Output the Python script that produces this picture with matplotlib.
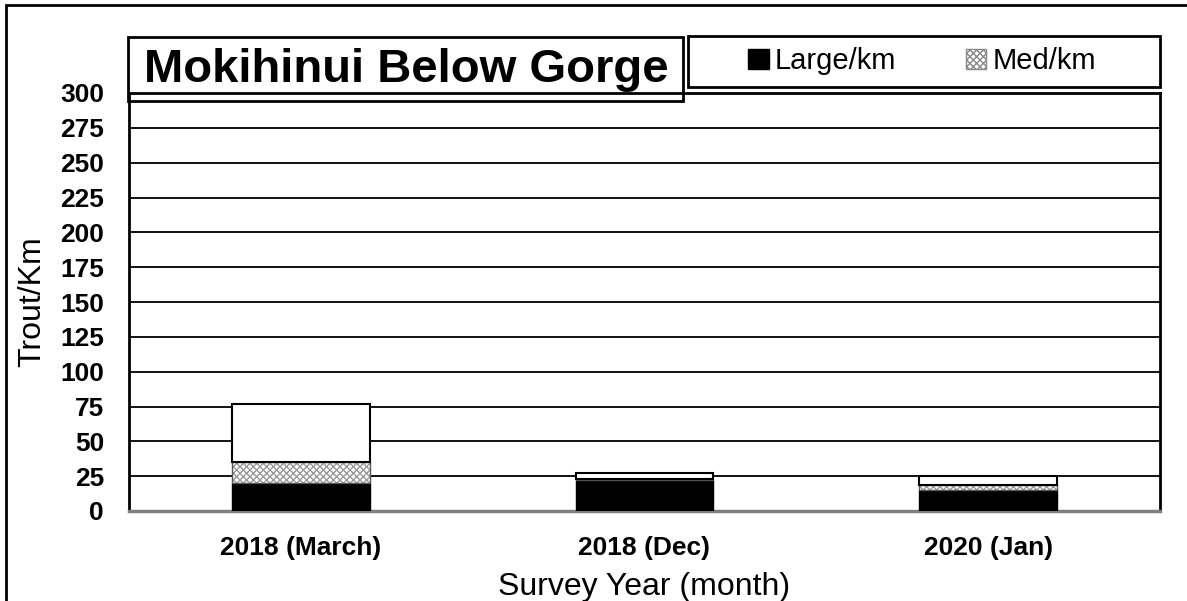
import matplotlib.pyplot as plt
from matplotlib.patches import Rectangle, Patch

plt.rcParams['font.family'] = ['Liberation Sans', 'DejaVu Sans']

# data
surveys = ["2018 (March)", "2018 (Dec)", "2020 (Jan)"]
large_km = [20, 22, 15]
med_km = [15.5, 1, 4]
small_km = [41.5, 4, 6]
y_ticks = list(range(0, 301, 25))

W, H = 1187, 601
fig = plt.figure(figsize=(W / 100, H / 100), dpi=100)
# plot area in pixels: left 129, right 1160, top 93, bottom 511
ax = fig.add_axes([129 / W, 1 - 511 / H, (1160 - 129) / W, (511 - 93) / H])

x = range(len(surveys))
bw = 0.4
med_bottom = large_km
small_bottom = [a + b for a, b in zip(large_km, med_km)]

ax.bar(x, large_km, bw, color='black', edgecolor='black', linewidth=1, zorder=3)
ax.bar(x, med_km, bw, bottom=med_bottom, color='white', edgecolor='#9a9a9a',
       hatch='xxxxx', linewidth=0, zorder=3)
ax.bar(x, med_km, bw, bottom=med_bottom, fill=False, edgecolor='#555555',
       linewidth=1, zorder=3)
ax.bar(x, small_km, bw, bottom=small_bottom, color='white', edgecolor='black',
       linewidth=1.5, zorder=3)

ax.set_ylim(0, 300)
ax.set_xlim(-0.5, len(surveys) - 0.5)
ax.set_yticks(y_ticks)
ax.set_xticks(list(x))
ax.set_xticklabels(surveys)
ax.grid(axis='y', color='black', linewidth=1.3, zorder=0)
ax.tick_params(length=0, labelsize=19)
ax.tick_params(axis='y', pad=18)
ax.tick_params(axis='x', pad=18)
for lbl in ax.get_xticklabels() + ax.get_yticklabels():
    lbl.set_fontweight('bold')

for s in ['left', 'top', 'right']:
    ax.spines[s].set_color('black')
    ax.spines[s].set_linewidth(2)
ax.spines['bottom'].set_color('#808080')
ax.spines['bottom'].set_linewidth(2.5)

ax.set_ylabel("Trout/Km", fontsize=23, labelpad=9)
ax.set_xlabel("Survey Year (month)", fontsize=23, labelpad=9)

# figure frame (left and top edges visible)
fig.patches.append(Rectangle((6 / W, -0.1), 1.2, 1 - 5 / H + 0.1,
                             transform=fig.transFigure, fill=False,
                             edgecolor='black', linewidth=2))

# title box
fig.patches.append(Rectangle((128 / W, 1 - 101 / H), (683 - 128) / W, 64 / H,
                             transform=fig.transFigure, fill=False,
                             edgecolor='black', linewidth=2, zorder=5))
fig.text(406 / W, 1 - 70 / H, "Mokihinui Below Gorge", fontsize=34,
         fontweight='bold', ha='center', va='center')

# legend frame box (688 to 1160 px wide, 36 to 87 px tall)
fig.patches.append(Rectangle((688 / W, 1 - 87 / H), (1160 - 688) / W, 51 / H,
                             transform=fig.transFigure, fill=False,
                             edgecolor='black', linewidth=2, zorder=5))
handles = [Patch(facecolor='black', edgecolor='black', label='Large/km'),
           Patch(facecolor='white', edgecolor='#888888', hatch='xxxxx',
                 label='Med/km')]
leg = fig.legend(handles=handles, ncol=2, loc='center',
                 bbox_to_anchor=(922 / W, 1 - 61 / H), fontsize=21,
                 frameon=False, handlelength=0.7, handleheight=0.7,
                 handletextpad=0.2, columnspacing=2.4)

fig.savefig("out.png", dpi=100)
